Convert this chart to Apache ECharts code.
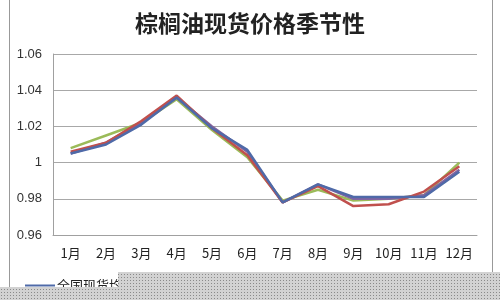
<!DOCTYPE html>
<html><head><meta charset="utf-8">
<script src="https://cdn.jsdelivr.net/npm/echarts@6/dist/echarts.min.js"></script>
<style>html,body{margin:0;padding:0;background:#fff}#c{width:500px;height:300px}</style>
</head><body><div id="c"></div>
<script>
const categories = ['1月','2月','3月','4月','5月','6月','7月','8月','9月','10月','11月','12月'];
const yTicks = [0.96, 0.98, 1, 1.02, 1.04, 1.06];
const seriesNames = ['全国现货均价', '系列2', '系列3', '系列4'];
const blueVals   = [1.005, 1.010, 1.021, 1.036, 1.019, 1.007, 0.978, 0.988, 0.981, 0.981, 0.981, 0.995];
const redVals    = [1.006, 1.011, 1.023, 1.037, 1.019, 1.004, 0.978, 0.987, 0.976, 0.977, 0.984, 0.998];
const greenVals  = [1.008, 1.015, 1.022, 1.035, 1.018, 1.003, 0.979, 0.985, 0.979, 0.980, 0.982, 1.000];
const purpleVals = [1.005, 1.011, 1.022, 1.036, 1.020, 1.006, 0.978, 0.988, 0.980, 0.980, 0.982, 0.996];

const chart = echarts.init(document.getElementById('c'), null, {renderer: 'canvas'});

const pc = document.createElement('canvas');
pc.width = 3; pc.height = 3;
const pctx = pc.getContext('2d');
pctx.fillStyle = '#d2d2d2'; pctx.fillRect(0, 0, 3, 3);
pctx.fillStyle = '#8a8a8a'; pctx.fillRect(1, 1, 1, 1);

function mk(name, data, color, z) {
  return {name, type: 'line', data, symbol: 'none', z,
    lineStyle: {color, width: 2.5}, itemStyle: {color}};
}

chart.setOption({
  animation: false,
  backgroundColor: '#fff',
  title: {text: '棕榈油现货价格季节性', left: 'center', top: 7,
    textStyle: {fontFamily: 'Noto Sans CJK SC', fontSize: 23, fontWeight: 'bold', color: '#222'}},
  grid: {left: 53, right: 23, top: 54, bottom: 65},
  legend: {data: [seriesNames[0]], left: 20, top: 274, itemWidth: 30, itemHeight: 2, itemGap: 2,
    icon: 'rect',
    textStyle: {fontFamily: 'Noto Sans CJK SC', fontSize: 13, color: '#222', padding: [0, 0, 0, -3]}},
  xAxis: {type: 'category', data: categories, boundaryGap: true,
    axisLine: {show: true, lineStyle: {color: '#a0a0a0'}},
    axisTick: {show: false},
    axisLabel: {fontFamily: 'Noto Sans CJK SC', fontSize: 13, color: '#222', margin: 12, interval: 0}},
  yAxis: {type: 'value', min: yTicks[0], max: yTicks[yTicks.length - 1], interval: 0.02,
    axisLine: {show: true, lineStyle: {color: '#a0a0a0'}},
    axisTick: {show: false},
    splitLine: {lineStyle: {color: '#a8a8a8', width: 1}},
    axisLabel: {fontFamily: 'Liberation Sans', fontSize: 13, color: '#333', margin: 11,
      formatter: v => String(parseFloat(v.toFixed(2)))}},
  series: [
    mk(seriesNames[2], greenVals, '#9BBB59', 2),
    mk(seriesNames[3], purpleVals, '#8064A2', 3),
    mk(seriesNames[1], redVals, '#C0504D', 4),
    mk(seriesNames[0], blueVals, '#4F6AA8', 5)
  ],
  graphic: [
    {type: 'line', shape: {x1: 9.5, y1: 0, x2: 9.5, y2: 290}, style: {stroke: '#999', lineWidth: 1}, z: 10},
    {type: 'line', shape: {x1: 492.5, y1: 0, x2: 492.5, y2: 290}, style: {stroke: '#999', lineWidth: 1}, z: 10},
    {type: 'polygon', shape: {points: [[118, 272], [500, 272], [500, 300], [0, 300], [0, 287], [118, 287]]},
      style: {fill: {image: pc, repeat: 'repeat'}}, z: 100}
  ]
});
</script></body></html>
